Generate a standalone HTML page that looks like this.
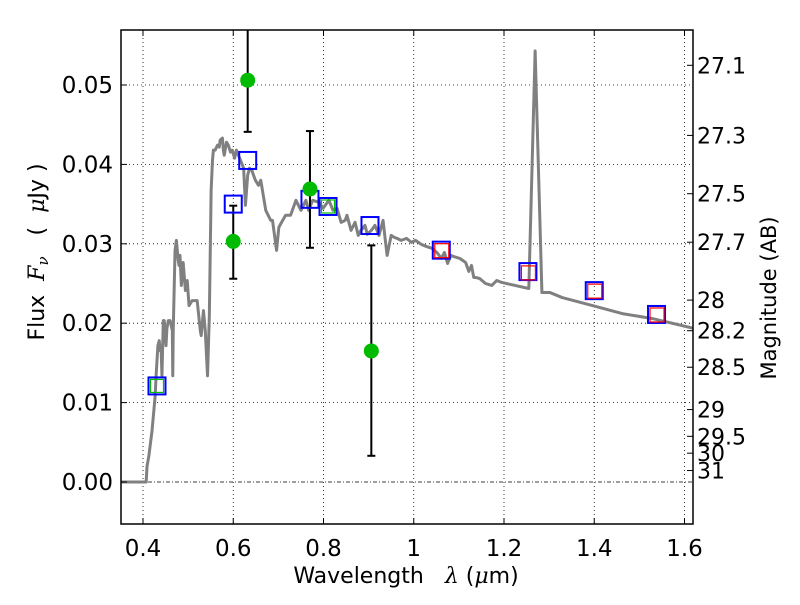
<!DOCTYPE html>
<html><head><meta charset="utf-8"><style>
html,body{margin:0;padding:0;background:#fff;}
svg text{font-family:"DejaVu Sans","Liberation Sans",sans-serif;fill:#000;}
</style></head><body>
<svg id="chart" width="800" height="600" viewBox="0 0 800 600">
<rect width="800" height="600" fill="#fff"/>
<g id="grid"></g><g id="series"></g><g id="axes"></g>
</svg>
<script>
const specLam=[0.351,0.407,0.409,0.413,0.420,0.427,0.429,0.433,0.436,0.438,0.440,0.442,0.445,0.447,0.451,0.453,0.456,0.460,0.465,0.466,0.467,0.471,0.474,0.478,0.480,0.482,0.485,0.489,0.494,0.498,0.502,0.509,0.520,0.527,0.529,0.534,0.538,0.543,0.547,0.551,0.554,0.556,0.560,0.565,0.569,0.571,0.576,0.578,0.580,0.585,0.589,0.594,0.598,0.603,0.607,0.616,0.623,0.627,0.632,0.636,0.641,0.649,0.656,0.661,0.672,0.683,0.687,0.696,0.701,0.707,0.716,0.727,0.739,0.750,0.761,0.767,0.776,0.790,0.799,0.812,0.821,0.830,0.839,0.848,0.852,0.861,0.870,0.877,0.883,0.892,0.897,0.906,0.914,0.923,0.932,0.937,0.941,0.950,0.957,0.963,0.972,0.984,0.995,1.004,1.017,1.028,1.041,1.053,1.061,1.068,1.075,1.082,1.088,1.102,1.115,1.122,1.128,1.133,1.137,1.146,1.159,1.173,1.184,1.195,1.255,1.269,1.284,1.302,1.329,1.396,1.462,1.529,1.623];
const specFlux=[0,0,0.00202,0.00328,0.00644,0.01086,0.01338,0.01717,0.01780,0.01654,0.01717,0.01338,0.02033,0.02033,0.01717,0.01932,0.02033,0.02033,0.01907,0.01338,0.01907,0.02917,0.03043,0.02790,0.02727,0.02854,0.02475,0.02765,0.02412,0.02538,0.02222,0.02285,0.02285,0.01907,0.01843,0.02159,0.01907,0.01338,0.02096,0.03674,0.04053,0.04179,0.04179,0.04242,0.04217,0.04306,0.04331,0.04179,0.04116,0.04280,0.04242,0.04154,0.04179,0.04078,0.04179,0.04053,0.03952,0.03485,0.03864,0.03952,0.03927,0.03801,0.03737,0.03801,0.03422,0.03295,0.03295,0.02917,0.03207,0.03270,0.03359,0.03359,0.03548,0.03422,0.03548,0.03422,0.03548,0.03523,0.03447,0.03548,0.03422,0.03447,0.03270,0.03295,0.03359,0.03169,0.03270,0.03106,0.03169,0.03232,0.03119,0.03169,0.03232,0.03106,0.03295,0.03043,0.02854,0.03106,0.03081,0.03068,0.03043,0.03068,0.03018,0.03043,0.02992,0.02967,0.02942,0.02879,0.02816,0.02891,0.02753,0.02854,0.02841,0.02816,0.02765,0.02652,0.02727,0.02576,0.02576,0.02563,0.02500,0.02475,0.02538,0.02513,0.02437,0.05429,0.02386,0.02386,0.02323,0.02222,0.02121,0.02058,0.01932];
const obsLam=[0.600,0.632,0.770,0.906];
const obsFlux=[0.0303,0.0506,0.0369,0.0165];
const obsLo=[0.0256,0.0441,0.0295,0.0033];
const obsHi=[0.0348,0.0650,0.0442,0.0298];
const modLam=[0.431,0.600,0.632,0.770,0.810,0.903,1.061,1.253,1.400,1.538];
const modFlux=[0.0121,0.0350,0.0405,0.0356,0.0347,0.0323,0.0292,0.0265,0.0241,0.0211];
const greenLam=[0.431,0.810];
const greenFlux=[0.0121,0.0347];
const redLam=[1.061,1.253,1.400,1.538];
const redFlux=[0.0292,0.0264,0.0241,0.0211];
const xTicks=[0.4,0.6,0.8,1.0,1.2,1.4,1.6];
const xTickLabels=["0.4","0.6","0.8","1","1.2","1.4","1.6"];
const yTicks=[0,0.01,0.02,0.03,0.04,0.05];
const yTickLabels=["0.00","0.01","0.02","0.03","0.04","0.05"];
const magTicks=[27.1,27.3,27.5,27.7,28,28.2,28.5,29,29.5,30,31];
const magTickLabels=["27.1","27.3","27.5","27.7","28","28.2","28.5","29","29.5","30","31"];

const L=121,R=693,T=30,B=524;
const X=v=>143+(v-0.4)*451.25;
const Y=v=>482-v*7940;
const NS='http://www.w3.org/2000/svg';
function mk(tag,attrs,parent,txt){const e=document.createElementNS(NS,tag);for(const k in attrs)e.setAttribute(k,attrs[k]);if(txt!==undefined)e.textContent=txt;parent.appendChild(e);return e;}
const grid=document.getElementById('grid'),ser=document.getElementById('series'),ax=document.getElementById('axes');

xTicks.forEach(t=>{const l=mk('line',{x1:X(t),x2:X(t),y1:T,y2:B,stroke:'#000','stroke-width':0.8,'stroke-dasharray':'1,3'},grid);

});
yTicks.forEach(t=>{const l=mk('line',{x1:L,x2:R,y1:Y(t),y2:Y(t),stroke:'#000','stroke-width':0.8,'stroke-dasharray':t===0?'4,2,1,2':'1,3'},grid);

});

const clip=mk('clipPath',{id:'pc'},ser);mk('rect',{x:L,y:T,width:R-L,height:B-T},clip);
const sp=mk('polyline',{points:specLam.map((l,i)=>X(l)+','+Y(specFlux[i])).join(' '),fill:'none',stroke:'#808080','stroke-width':3,'stroke-linejoin':'round','clip-path':'url(#pc)'},ser);



obsLam.forEach((l,i)=>{const g=mk('g',{'clip-path':'url(#pc)'},ser);


mk('line',{x1:X(l),x2:X(l),y1:Y(obsLo[i]),y2:Y(obsHi[i]),stroke:'#000','stroke-width':2},g);
[obsLo[i],obsHi[i]].forEach(v=>mk('line',{x1:X(l)-4,x2:X(l)+4,y1:Y(v),y2:Y(v),stroke:'#000','stroke-width':2},g));});
modLam.forEach((l,i)=>{const r=mk('rect',{x:X(l)-8.5,y:Y(modFlux[i])-8.5,width:17,height:17,fill:'none',stroke:'#0000ff','stroke-width':2},ser);

});
greenLam.forEach((l,i)=>{const r=mk('rect',{x:X(l)-6.5,y:Y(greenFlux[i])-6.5,width:13,height:13,fill:'none',stroke:'#00bb00','stroke-width':1.2},ser);

});
redLam.forEach((l,i)=>{const r=mk('rect',{x:X(l)-6.5,y:Y(redFlux[i])-6.5,width:14,height:14,fill:'none',stroke:'#ff0000','stroke-width':1.2},ser);

});
obsLam.forEach((l,i)=>{const c=mk('circle',{cx:X(l),cy:Y(obsFlux[i]),r:7.5,fill:'#00bb00'},ser);

});

const fr=mk('rect',{x:L,y:T,width:R-L,height:B-T,fill:'none',stroke:'#000','stroke-width':1.5},ax);


xTicks.forEach((t,i)=>{mk('line',{x1:X(t),x2:X(t),y1:B,y2:B-6,stroke:'#000'},ax);mk('line',{x1:X(t),x2:X(t),y1:T,y2:T+6,stroke:'#000'},ax);
const tx=mk('text',{x:X(t),y:B+32,'font-size':23,'text-anchor':'middle'},ax,xTickLabels[i]);

});
yTicks.forEach((t,i)=>{mk('line',{x1:L,x2:L+6,y1:Y(t),y2:Y(t),stroke:'#000'},ax);
const tx=mk('text',{x:L-8,y:Y(t)+8,'font-size':23,'text-anchor':'end'},ax,yTickLabels[i]);

});
magTicks.forEach((m,i)=>{const y=Y(Math.pow(10,(23.9-m)/2.5));mk('line',{x1:R,x2:R-6,y1:y,y2:y,stroke:'#000'},ax);
const tx=mk('text',{x:R+4,y:y+8,'font-size':22},ax,magTickLabels[i]);

});
</script>
<svg style="position:absolute;left:0;top:0" width="800" height="600">
<text x="406" y="583" font-size="22" text-anchor="middle" font-family="DejaVu Sans, Liberation Sans, sans-serif" xml:space="preserve">Wavelength   <tspan font-style="italic" font-family="DejaVu Serif, Liberation Serif, serif">λ</tspan> (<tspan font-style="italic" font-family="DejaVu Serif, Liberation Serif, serif">μ</tspan>m)</text>
<text transform="translate(44,252) rotate(-90)" font-size="22" text-anchor="middle" font-family="DejaVu Sans, Liberation Sans, sans-serif" xml:space="preserve">Flux  <tspan font-style="italic" font-family="DejaVu Serif, Liberation Serif, serif">F<tspan font-size="15" dy="4">ν</tspan></tspan><tspan dy="-4">   (  </tspan><tspan font-style="italic" font-family="DejaVu Serif, Liberation Serif, serif">μ</tspan>Jy )</text>
<text transform="translate(776,298) rotate(-90)" font-size="21" text-anchor="middle" font-family="DejaVu Sans, Liberation Sans, sans-serif">Magnitude (AB)</text>
</svg>
</body></html>
